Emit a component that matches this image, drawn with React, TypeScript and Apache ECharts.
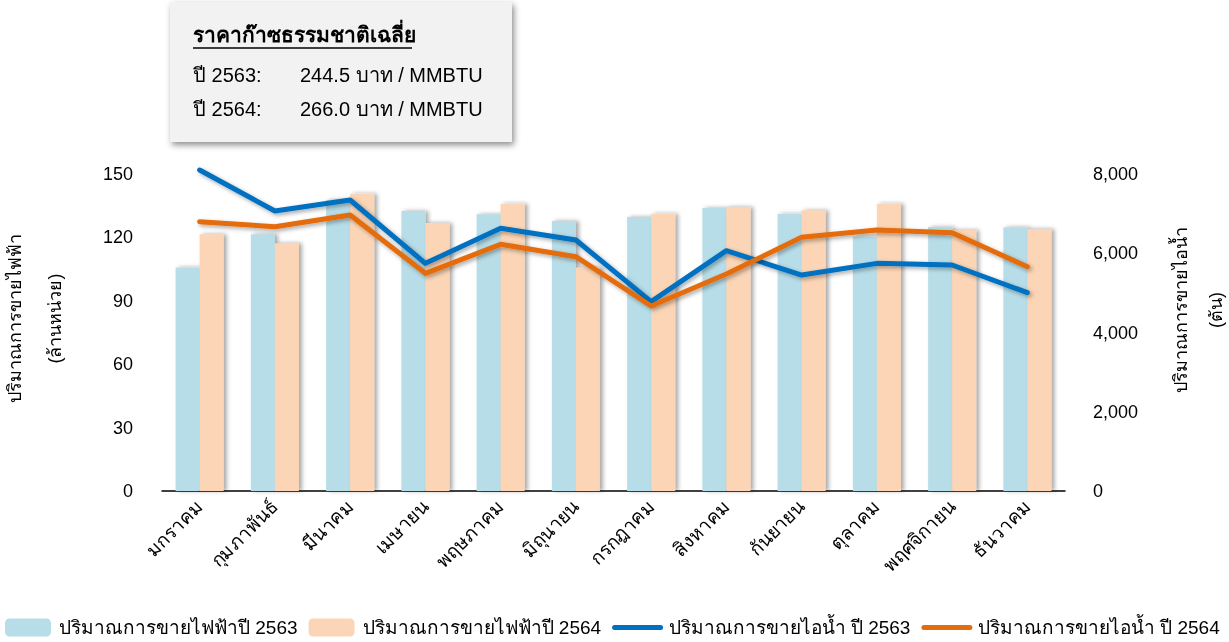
import React, { useEffect, useRef } from "react";
import * as echarts from "echarts";

const months = ["มกราคม", "กุมภาพันธ์", "มีนาคม", "เมษายน", "พฤษภาคม", "มิถุนายน", "กรกฎาคม", "สิงหาคม", "กันยายน", "ตุลาคม", "พฤศจิกายน", "ธันวาคม"];
const power2563 = [105.7, 121.5, 137.7, 132.5, 130.9, 127.8, 129.7, 133.9, 131.2, 120.3, 124.9, 124.8];
const power2564 = [121.5, 117.2, 140.7, 126.8, 135.9, 105.7, 131.2, 134.4, 132.8, 135.9, 123.5, 124.0];
const steam2563 = [8100, 7066, 7344, 5745, 6629, 6334, 4778, 6065, 5451, 5745, 5703, 5005];
const steam2564 = [6797, 6670, 6965, 5493, 6225, 5913, 4669, 5476, 6401, 6587, 6519, 5661];
const seriesNames = ["ปริมาณการขายไฟฟ้าปี 2563", "ปริมาณการขายไฟฟ้าปี 2564", "ปริมาณการขายไอน้ำ ปี 2563", "ปริมาณการขายไอน้ำ ปี 2564"];
const boxTitle = "ราคาก๊าซธรรมชาติเฉลี่ย";
const boxYears = ["ปี 2563:", "ปี 2564:"];
const boxPrices = ["244.5 บาท / MMBTU", "266.0 บาท / MMBTU"];

const FONT = "'Liberation Sans', Arial, 'Noto Sans', sans-serif";

export default function App() {
  const ref = useRef<HTMLDivElement>(null);
  useEffect(() => {
    if (!ref.current) return;
    const chart = echarts.init(ref.current, undefined, { renderer: "svg" });
    const barShadow = { shadowColor: "rgba(0,0,0,0.35)", shadowBlur: 4, shadowOffsetX: 3, shadowOffsetY: 0 };
    const lineShadow = { shadowColor: "rgba(0,0,0,0.35)", shadowBlur: 4, shadowOffsetX: 2, shadowOffsetY: 2 };
    chart.setOption({
      animation: false,
      textStyle: { fontFamily: FONT },
      grid: { left: 162, right: 164, top: 174, bottom: 151, containLabel: false, outerBoundsMode: "none" },
      legend: {
        left: 0,
        bottom: 0,
        itemWidth: 46,
        itemHeight: 18,
        itemGap: 11,
        textStyle: { fontSize: 19, color: "#000", fontFamily: FONT, padding: [0, 0, 0, 3] },
        data: [
          { name: seriesNames[0] },
          { name: seriesNames[1] },
          { name: seriesNames[2], itemStyle: { opacity: 0 }, lineStyle: { width: 5, cap: "round" } },
          { name: seriesNames[3], itemStyle: { opacity: 0 }, lineStyle: { width: 5, cap: "round" } },
        ],
      },
      xAxis: {
        type: "category",
        data: months,
        axisLine: { lineStyle: { color: "#000", width: 1.5 } },
        axisTick: { show: false },
        axisLabel: { rotate: 45, fontSize: 19, color: "#000", margin: 12, interval: 0 },
      },
      yAxis: [
        {
          type: "value",
          min: 0,
          max: 150,
          interval: 30,
          splitLine: { show: false },
          axisLine: { show: false },
          axisTick: { show: false },
          axisLabel: { fontSize: 18, color: "#000", margin: 29 },
          name: "ปริมาณการขายไฟฟ้า\n(ล้านหน่วย)",
          nameLocation: "middle",
          nameRotate: 90,
          nameGap: 87,
          nameTextStyle: { fontSize: 18, color: "#000", lineHeight: 40, padding: [0, 0, 0, 28] },
        },
        {
          type: "value",
          min: 0,
          max: 8000,
          interval: 2000,
          splitLine: { show: false },
          axisLine: { show: false },
          axisTick: { show: false },
          axisLabel: {
            fontSize: 18,
            color: "#000",
            margin: 28,
            formatter: (v: number) => v.toLocaleString("en-US"),
          },
          name: "ปริมาณการขายไอน้ำ\n(ตัน)",
          nameLocation: "middle",
          nameRotate: 90,
          nameGap: 98,
          nameTextStyle: { fontSize: 18, color: "#000", lineHeight: 35, padding: [0, 0, 0, 45] },
        },
      ],
      series: [
        {
          name: seriesNames[0],
          type: "bar",
          data: power2563,
          barWidth: 24,
          barGap: "0%",
          itemStyle: { color: "#B7DDE8", ...barShadow },
        },
        {
          name: seriesNames[1],
          type: "bar",
          data: power2564,
          barWidth: 24,
          barGap: "0%",
          itemStyle: { color: "#FBD5B5", ...barShadow },
        },
        {
          name: seriesNames[2],
          type: "line",
          yAxisIndex: 1,
          data: steam2563,
          symbol: "none",
          clip: false,
          lineStyle: { color: "#0070C0", width: 5, cap: "round", join: "round", ...lineShadow },
          itemStyle: { color: "#0070C0" },
        },
        {
          name: seriesNames[3],
          type: "line",
          yAxisIndex: 1,
          data: steam2564,
          symbol: "none",
          clip: false,
          lineStyle: { color: "#E46C0A", width: 5, cap: "round", join: "round", ...lineShadow },
          itemStyle: { color: "#E46C0A" },
        },
      ],
      graphic: [
        {
          type: "group",
          left: 170,
          top: 2,
          children: [
            {
              type: "rect",
              shape: { x: 0, y: 0, width: 342, height: 140 },
              style: { fill: "#F2F2F2", shadowColor: "rgba(0,0,0,0.45)", shadowBlur: 6, shadowOffsetX: 2, shadowOffsetY: 3 },
            },
            {
              type: "text",
              x: 23,
              y: 32,
              style: { text: boxTitle, fill: "#000", font: `bold 21px ${FONT}`, verticalAlign: "middle" },
            },
            {
              type: "line",
              shape: { x1: 23, y1: 46, x2: 242, y2: 46 },
              style: { stroke: "#000", lineWidth: 1.5 },
            },
            {
              type: "text",
              x: 23,
              y: 73,
              style: { text: boxYears[0], font: `20px ${FONT}`, fill: "#000", verticalAlign: "middle" },
            },
            {
              type: "text",
              x: 130,
              y: 73,
              style: { text: boxPrices[0], font: `20px ${FONT}`, fill: "#000", verticalAlign: "middle" },
            },
            {
              type: "text",
              x: 23,
              y: 107,
              style: { text: boxYears[1], font: `20px ${FONT}`, fill: "#000", verticalAlign: "middle" },
            },
            {
              type: "text",
              x: 130,
              y: 107,
              style: { text: boxPrices[1], font: `20px ${FONT}`, fill: "#000", verticalAlign: "middle" },
            },
          ],
        },
      ],
    });
    return () => chart.dispose();
  }, []);
  return <div ref={ref} style={{ position: "fixed", left: 0, top: 0, width: 1229, height: 642 }} />;
}
